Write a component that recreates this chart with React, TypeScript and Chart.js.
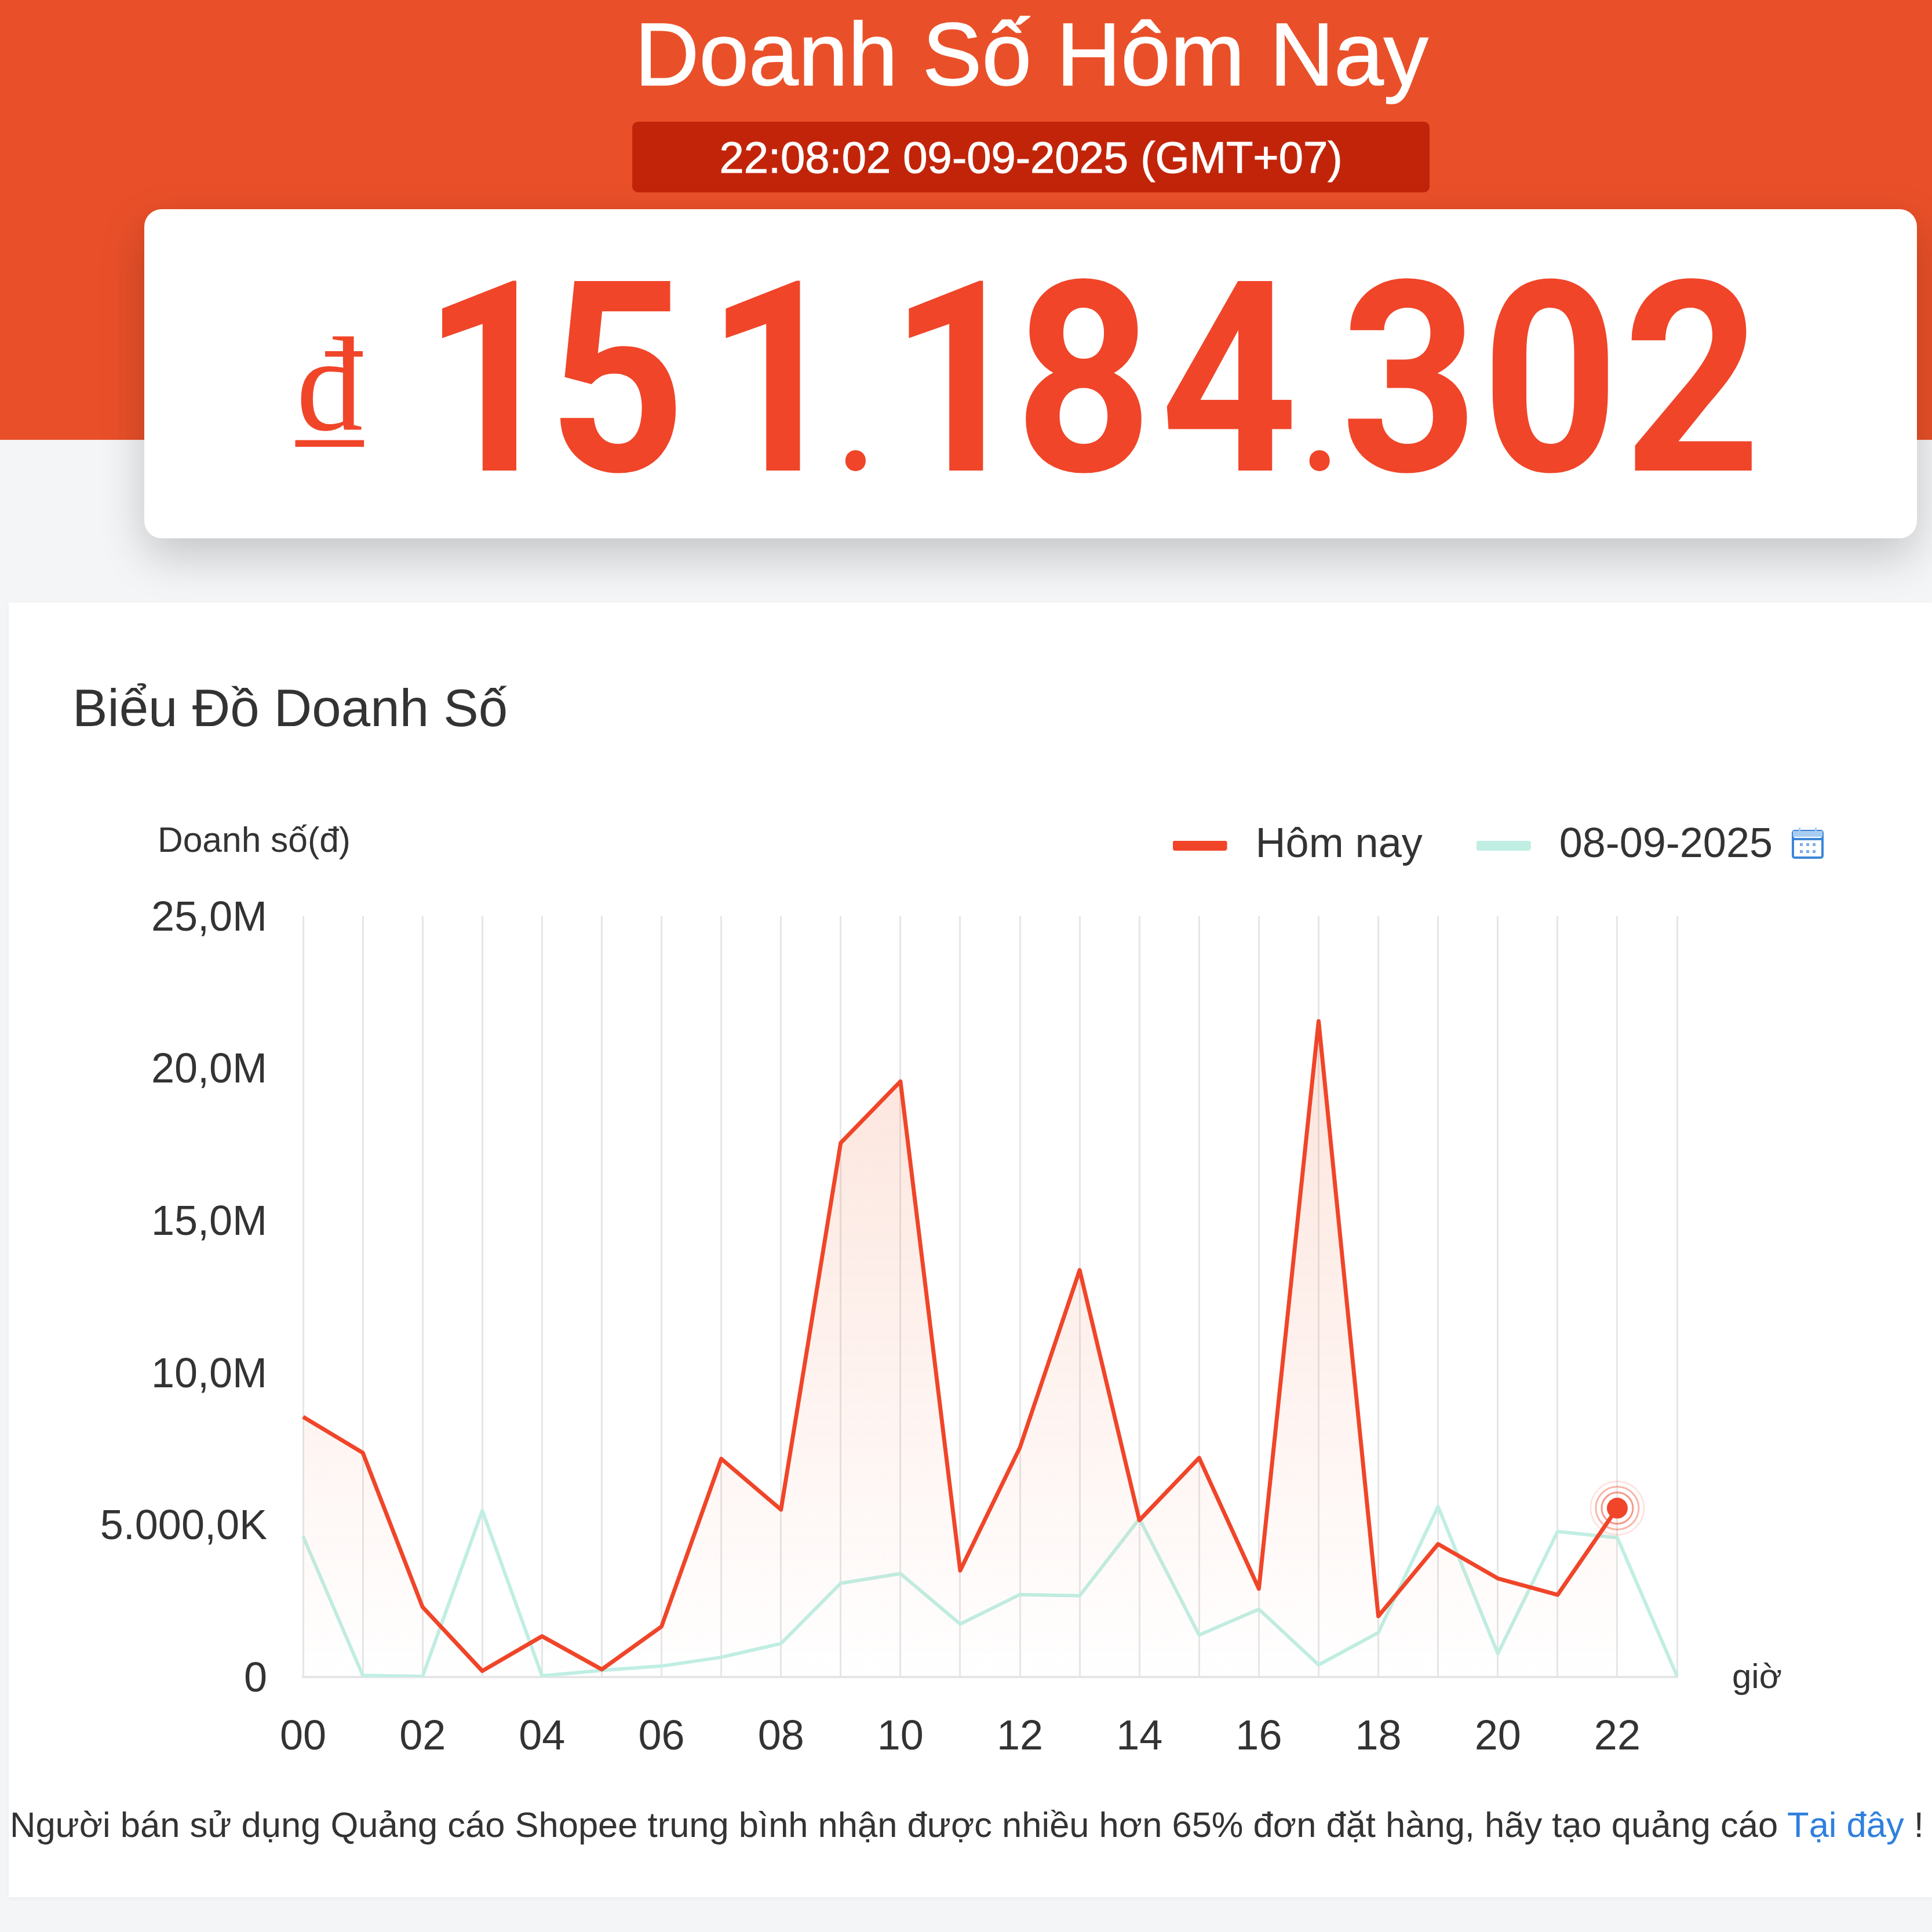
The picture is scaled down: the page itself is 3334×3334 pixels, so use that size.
import React, { useEffect, useRef } from "react";
import { Chart, registerables } from "chart.js";

Chart.register(...registerables);

const hours = ["00","01","02","03","04","05","06","07","08","09","10","11","12","13","14","15","16","17","18","19","20","21","22","23"];
const todayValues = [8550000,7370000,2300000,200000,1340000,250000,1660000,7170000,5500000,17550000,19570000,3500000,7540000,13370000,5150000,7200000,2900000,21550000,2000000,4370000,3240000,2700000,5550000,null];
const yesterdayValues = [4620000,50000,20000,5470000,40000,220000,360000,650000,1100000,3080000,3400000,1740000,2710000,2670000,5200000,1380000,2230000,400000,1460000,5600000,770000,4780000,4580000,30000];
const seriesNames = ["Hôm nay", "08-09-2025"];
const yTickLabels: Record<number, string> = { 0: "0", 5000000: "5.000,0K", 10000000: "10,0M", 15000000: "15,0M", 20000000: "20,0M", 25000000: "25,0M" };

const RED = "#f04529";
const TEAL = "#c0eee3";
const GRID = "#e6e6e6";
const FONT = "'Liberation Sans', Arial, sans-serif";

function swatch(color: string) {
  const c = document.createElement("canvas");
  c.width = 107;
  c.height = 17;
  const x = c.getContext("2d")!;
  x.fillStyle = color;
  x.beginPath();
  x.roundRect(0, 0, 94, 17, 4);
  x.fill();
  return c;
}

const lastPointRings = {
  id: "lastPointRings",
  afterDatasetsDraw(chart: any) {
    const meta = chart.getDatasetMeta(0);
    const idx = todayValues.findLastIndex((v) => v !== null);
    const p = meta.data[idx];
    if (!p) return;
    const { ctx } = chart;
    ctx.save();
    ([[27, 0.55, 3], [37, 0.4, 3], [46, 0.14, 3]] as number[][]).forEach(([r, a, w]) => {
      ctx.beginPath();
      ctx.arc(p.x, p.y, r, 0, Math.PI * 2);
      ctx.strokeStyle = `rgba(240,69,41,${a})`;
      ctx.lineWidth = w;
      ctx.stroke();
    });
    ctx.restore();
  },
};

function T({ x, b, fs, children, style }: any) {
  return (
    <div style={{ position: "absolute", left: x, top: b - 0.8465 * fs, fontSize: fs, lineHeight: `${fs}px`, whiteSpace: "nowrap", fontFamily: FONT, ...style }}>
      {children}
    </div>
  );
}

export default function App() {
  const ref = useRef<HTMLCanvasElement>(null);
  useEffect(() => {
    const chart = new Chart(ref.current!, {
      type: "line",
      data: {
        labels: hours,
        datasets: [
          {
            label: seriesNames[0],
            data: todayValues,
            borderColor: RED,
            borderWidth: 7,
            borderJoinStyle: "round",
            tension: 0,
            order: 0,
            fill: "origin",
            spanGaps: false,
            backgroundColor: (c: any) => {
              const a = c.chart.chartArea;
              if (!a) return "transparent";
              const g = c.chart.ctx.createLinearGradient(0, a.top + 150, 0, a.bottom);
              g.addColorStop(0, "rgba(240,90,40,0.17)");
              g.addColorStop(1, "rgba(240,90,40,0)");
              return g;
            },
            pointRadius: (c: any) => (c.dataIndex === todayValues.findLastIndex((v) => v !== null) ? 18 : 0),
            pointBackgroundColor: RED,
            pointBorderWidth: 0,
          },
          {
            label: seriesNames[1],
            data: yesterdayValues,
            borderColor: TEAL,
            borderWidth: 6,
            borderJoinStyle: "round",
            tension: 0,
            order: 1,
            fill: false,
            pointRadius: 0,
          },
        ],
      },
      options: {
        animation: false,
        responsive: false,
        devicePixelRatio: 1,
        events: [],
        layout: { padding: 0 },
        plugins: {
          title: { display: false },
          tooltip: { enabled: false },
          legend: {
            display: true,
            position: "top",
            align: "end",
            labels: {
              usePointStyle: true,
              pointStyleWidth: 107,
              padding: 93,
              color: "#333333",
              font: { family: FONT, size: 72 },
              generateLabels(c: any) {
                return Chart.defaults.plugins.legend.labels.generateLabels(c).map((it: any) => ({
                  ...it,
                  pointStyle: swatch(it.strokeStyle),
                  lineWidth: 0,
                }));
              },
            },
          },
        },
        scales: {
          x: {
            type: "category",
            offset: false,
            grid: { display: true, color: GRID, lineWidth: 3, drawTicks: false },
            border: { display: true, color: GRID, width: 4 },
            afterFit(s: any) { s.height = 280; },
            ticks: {
              autoSkip: false,
              maxRotation: 0,
              minRotation: 0,
              padding: 62,
              color: "#333333",
              font: { family: FONT, size: 72 },
              callback(_v: any, i: number) { return i % 2 === 0 ? hours[i] : ""; },
            },
          },
          y: {
            type: "linear",
            position: "left",
            min: 0,
            max: 25000000,
            grid: { display: false, drawTicks: false },
            border: { display: false },
            afterFit(s: any) { s.width = 523; },
            ticks: {
              stepSize: 5000000,
              padding: 62,
              labelOffset: 5,
              color: "#333333",
              font: { family: FONT, size: 72 },
              callback(v: any) { return yTickLabels[v as number]; },
            },
          },
          padRight: {
            type: "linear",
            position: "right",
            display: true,
            grid: { display: false, drawTicks: false },
            border: { display: false },
            ticks: { display: false },
            afterFit(s: any) { s.width = 258; },
          },
          padTop: {
            type: "linear",
            position: "top",
            display: true,
            grid: { display: false, drawTicks: false },
            border: { display: false },
            ticks: { display: false },
            afterFit(s: any) { s.height = 76; },
          },
        },
      } as any,
      plugins: [lastPointRings],
    });
    return () => chart.destroy();
  }, []);

  const dot = (key: string, right: number) => (
    <span key={key} style={{ fontSize: 245, marginLeft: 4, marginRight: right, letterSpacing: 0 }}>.</span>
  );
  const digit = (ch: string, ls: number, key: string) => <span key={key} style={{ letterSpacing: ls }}>{ch}</span>;

  return (
    <div style={{ position: "absolute", left: 0, top: 0, width: 3334, height: 3334, overflow: "hidden", background: "#f4f5f7", fontFamily: FONT }}>
      <div style={{ position: "absolute", left: 0, top: 0, width: 3334, height: 759, background: "#e95029" }} />
      <T x={0} b={147} fs={154} style={{ width: 3560, textAlign: "center", color: "#fff", WebkitTextStroke: "1.5px #fff" }}>Doanh Số Hôm Nay</T>
      <div style={{ position: "absolute", left: 1091, top: 210, width: 1376, height: 122, background: "#c2240a", borderRadius: 10 }} />
      <T x={1091} b={298} fs={76} style={{ width: 1376, textAlign: "center", color: "#fff", WebkitTextStroke: "1px #fff" }}>22:08:02 09-09-2025 (GMT+07)</T>

      <div style={{ position: "absolute", left: 249, top: 361, width: 3059, height: 568, background: "#fff", borderRadius: 30, boxShadow: "0 30px 80px rgba(0,0,0,0.2)" }} />
      <T x={510} b={744} fs={230} style={{ color: RED, fontFamily: "'Liberation Serif', serif" }}>₫</T>
      <div style={{ position: "absolute", left: 729, top: 811 - 0.84 * 460, fontSize: 460, lineHeight: "460px", fontFamily: "Roboto", fontWeight: 700, color: RED, whiteSpace: "nowrap", transform: "scaleX(0.9)", transformOrigin: "left top" }}>
        {digit("1", -23, "a")}{digit("5", 39, "b")}{digit("1", -16, "c")}{dot("d1", 28)}
        {digit("1", -23, "e")}{digit("8", 15, "f")}{digit("4", 3, "g")}{dot("d2", 4)}
        {digit("3", 6, "h")}{digit("0", 8, "i")}{digit("2", 8, "j")}
      </div>

      <div style={{ position: "absolute", left: 15, top: 1040, width: 3319, height: 2234, background: "#fff", boxShadow: "0 2px 8px rgba(0,0,0,0.04)" }} />
      <T x={125} b={1254} fs={90.7} style={{ color: "#333" }}>Biểu Đồ Doanh Số</T>
      <T x={272} b={1470} fs={60.5} style={{ color: "#333" }}>Doanh số(đ)</T>

      <canvas ref={ref} width={3152} height={1844} style={{ position: "absolute", left: 0, top: 1330, width: 3152, height: 1844 }} />

      <svg style={{ position: "absolute", left: 3092, top: 1427 }} width={55} height={55} viewBox="0 0 55 55" fill="none">
        <rect x="2" y="7" width="51" height="46" rx="3" stroke="#3b86d9" strokeWidth="4" />
        <rect x="2" y="7" width="51" height="10" fill="#a9cdf2" />
        <rect x="2" y="19" width="51" height="4" fill="#3b86d9" />
        <rect x="12" y="1" width="3" height="10" fill="#a9cdf2" />
        <rect x="40" y="1" width="3" height="10" fill="#a9cdf2" />
        {[14, 25, 36].flatMap((x) => [28, 40].map((y) => <rect key={`${x}-${y}`} x={x} y={y} width="5" height="5" fill="#7aaee8" />))}
      </svg>

      <T x={2989} b={2914} fs={60} style={{ color: "#333" }}>giờ</T>
      <T x={17} b={3170} fs={61.5} style={{ color: "#333" }}>
        Người bán sử dụng Quảng cáo Shopee trung bình nhận được nhiều hơn 65% đơn đặt hàng, hãy tạo quảng cáo <span style={{ color: "#2f80dc" }}>Tại đây</span> !
      </T>
    </div>
  );
}
